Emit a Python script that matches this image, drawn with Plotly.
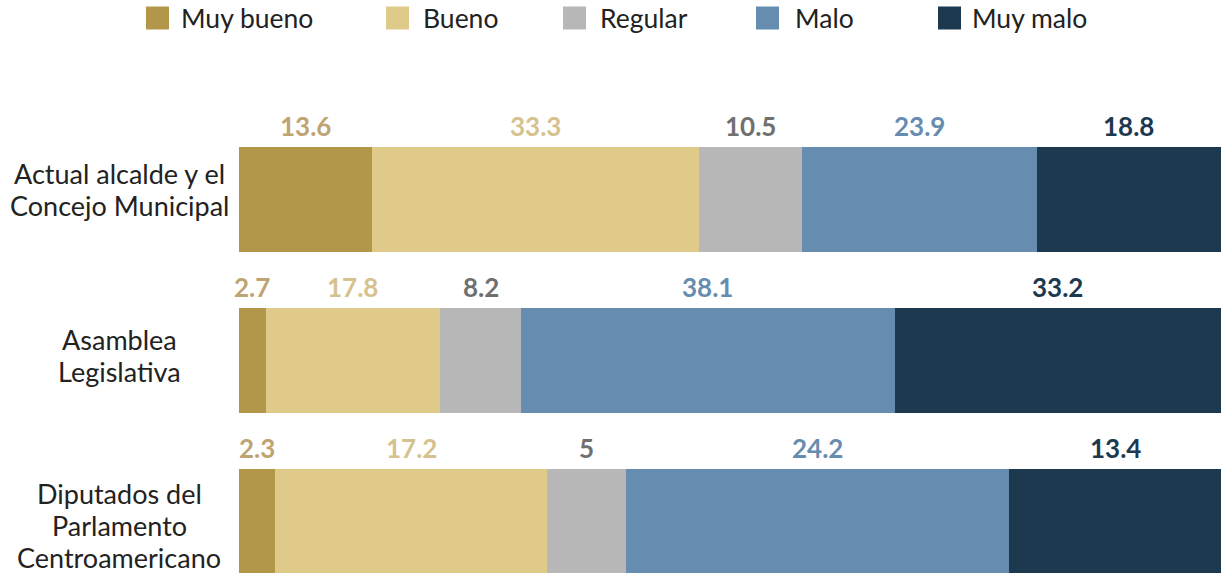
import plotly.graph_objects as go

categories = ["Actual alcalde y el<br>Concejo Municipal",
              "Asamblea<br>Legislativa",
              "Diputados del<br>Parlamento<br>Centroamericano"]
series_names = ["Muy bueno", "Bueno", "Regular", "Malo", "Muy malo"]
muy_bueno = [13.6, 2.7, 2.3]
bueno = [33.3, 17.8, 17.2]
regular = [10.5, 8.2, 5]
malo = [23.9, 38.1, 24.2]
muy_malo = [18.8, 33.2, 13.4]
series_values = [muy_bueno, bueno, regular, malo, muy_malo]

bar_colors = ["#B2974B", "#E0CA8A", "#B7B7B7", "#668DB0", "#1C394F"]
label_colors = ["#BFA473", "#D6C28E", "#707070", "#668DB0", "#1C394F"]

W, H = 1221, 573
ML, MR, MT, MB = 239, 0, 119, 0
PW, PH = W - ML - MR, H - MT - MB
FONT = "Lato"
LABEL_LINE_GAP = 31.6
LABEL_BLOCK_SHIFT = [8.8, 4.0, -5.2]

def px_x(px):
    return (px - ML) / PW

def px_y(py):
    return (H - MB - py) / PH

ys = list(range(len(categories)))
fig = go.Figure()
for name, vals, col in zip(series_names, series_values, bar_colors):
    fig.add_trace(go.Bar(y=ys, x=vals, name=name, orientation="h",
                         marker=dict(color=col, line=dict(width=0)),
                         width=0.652, showlegend=False, hoverinfo="skip"))

annotations = []
# value labels above each segment
for i in ys:
    total = sum(v[i] for v in series_values)
    cum = 0
    for vals, lc in zip(series_values, label_colors):
        v = vals[i]
        center = (cum + v / 2) / total * 100
        cum += v
        annotations.append(dict(x=center, y=i - 0.326, xref="x", yref="y",
                                text=f"<b>{v:g}</b>", showarrow=False,
                                xanchor="center", yanchor="bottom", yshift=3,
                                font=dict(family=FONT, size=26, color=lc)))
# category labels (one annotation per line for exact line spacing)
for i, c in enumerate(categories):
    lines = c.split("<br>")
    n = len(lines)
    for j, line in enumerate(lines):
        off = (j - (n - 1) / 2) * LABEL_LINE_GAP
        annotations.append(dict(x=px_x(119), y=i, xref="paper", yref="y",
                                text=line, showarrow=False, xanchor="center",
                                yanchor="middle", yshift=LABEL_BLOCK_SHIFT[i] - off + 1,
                                font=dict(family=FONT, size=27, color="#222222")))

# manual legend
sq_left = [146, 386, 563, 756, 938]
txt_left = [179, 421, 598, 793, 970]
shapes = []
for name, col, sx, tx in zip(series_names, bar_colors, sq_left, txt_left):
    shapes.append(dict(type="rect", xref="paper", yref="paper",
                       x0=px_x(sx), x1=px_x(sx + 23), y0=px_y(29.5), y1=px_y(6.5),
                       fillcolor=col, line=dict(width=0), layer="above"))
    annotations.append(dict(x=px_x(tx), y=px_y(18), xref="paper", yref="paper",
                            text=name, showarrow=False, xanchor="left",
                            yanchor="middle",
                            font=dict(family=FONT, size=26.5, color="#222222")))

fig.update_layout(
    width=W, height=H,
    margin=dict(l=ML, r=MR, t=MT, b=MB, pad=0),
    barmode="stack", barnorm="percent",
    plot_bgcolor="white", paper_bgcolor="white",
    xaxis=dict(range=[0, 100], visible=False, fixedrange=True),
    yaxis=dict(range=[2.322, -0.5], visible=False, fixedrange=True),
    annotations=annotations, shapes=shapes,
    font=dict(family=FONT),
)

fig.write_html("out.html", config={"displayModeBar": False},
               post_script="document.body.style.margin='0';document.body.style.overflow='hidden';")
